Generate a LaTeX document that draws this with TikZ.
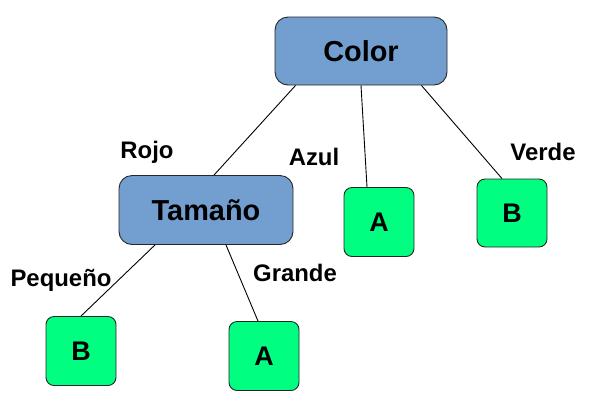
\documentclass[tikz,border=0pt]{standalone}
\usepackage{fontspec}
\setmainfont{Liberation Sans}
\definecolor{nodeblue}{HTML}{729FCF}
\definecolor{leafgreen}{HTML}{00FF80}
\begin{document}
\begin{tikzpicture}[x=1bp,y=-1bp,
  inner/.style={draw=black!85, line width=0.9bp, fill=nodeblue, rounded corners=13bp,
    minimum width=172bp, minimum height=68bp, font=\fontsize{29}{31}\selectfont\bfseries},
  leaf/.style={draw=black!85, line width=0.9bp, fill=leafgreen, rounded corners=8bp,
    minimum width=70bp, minimum height=69bp, font=\fontsize{27}{29}\selectfont\bfseries},
  edge/.style={line width=0.9bp},
  lbl/.style={font=\fontsize{24}{26}\selectfont\bfseries, inner sep=0pt}]
\useasboundingbox (0,0) rectangle (591,406);
\node[inner] (color) at (361,51) {Color};
\node[inner, minimum width=174bp, minimum height=69bp] (tam) at (206,210) {Tamaño};
\node[leaf] (a1) at (379,222) {A};
\node[leaf, minimum height=68bp] (b1) at (512,213) {B};
\node[leaf] (b2) at (81,351) {B};
\node[leaf] (a2) at (264,356) {A};
\coordinate (c1) at ([xshift=21bp]color.south west);
\coordinate (t1) at ([xshift=8bp]tam.north);
\draw[edge] (c1) -- (t1);
\draw[edge] (color.south) -- ([xshift=-12bp]a1.north);
\draw[edge] ([xshift=-26bp]color.south east) -- ([xshift=-10bp]b1.north);
\draw[edge] ([xshift=-51bp]tam.south) -- (b2.north);
\draw[edge] ([xshift=20bp]tam.south) -- ([xshift=-6bp]a2.north);
\node[lbl] (rojo) at (147,152) {Rojo};
\node[lbl] (azul) at (314,157) {Azul};
\node[lbl] (verde) at (543,152) {Verde};
\node[lbl] (peq) at (61,280) {Pequeño};
\node[lbl] (gra) at (295,273) {Grande};
\end{tikzpicture}
\end{document}
